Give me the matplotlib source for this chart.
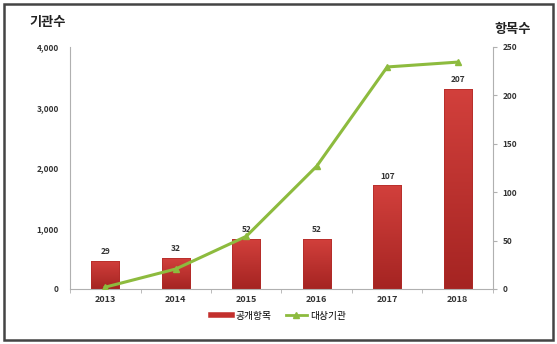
import numpy as np
import matplotlib.pyplot as plt
from matplotlib.patches import Rectangle
from matplotlib.lines import Line2D
from matplotlib.colors import LinearSegmentedColormap

plt.rcParams['font.family'] = ['Noto Sans CJK KR', 'DejaVu Sans']

years = ['2013', '2014', '2015', '2016', '2017', '2018']
items = [29, 32, 52, 52, 107, 207]            # 공개항목 (right axis)
orgs = [30, 330, 870, 2030, 3670, 3750]       # 대상기관 (left axis)

bar_color = '#c3302d'
line_color = '#8dbb3e'
axis_gray = '#b0b0b0'
text_col = '#333333'
grad = LinearSegmentedColormap.from_list('redgrad', ['#a52422', '#d2403c'])

fig = plt.figure(figsize=(5.57, 3.44), dpi=100)
ax = fig.add_axes([0.1257, 0.160, 0.7593, 0.7034])
ax2 = ax.twinx()

x = np.arange(len(years))

# bars on right axis, filled with a vertical gradient
bars = ax2.bar(x, items, width=0.4, color='none', edgecolor='#b02a27', linewidth=0.5, zorder=3)
ramp = np.linspace(0, 1, 100).reshape(-1, 1)
for b in bars:
    x0, y0 = b.get_x(), b.get_y()
    im = ax2.imshow(ramp, cmap=grad, origin='lower', aspect='auto', zorder=2,
                    extent=[x0, x0 + b.get_width(), y0, y0 + b.get_height()])
    im.set_clip_path(b)
for xi, v in zip(x, items):
    ax2.text(xi, v + 5, str(v), ha='center', va='bottom', fontsize=6, fontweight='bold', color=text_col)

# line on left axis, drawn above bars
ax.set_zorder(ax2.get_zorder() + 1)
ax.patch.set_visible(False)
ax.plot(x, orgs, color=line_color, lw=2.2, marker='^', ms=5, zorder=3)

ax.set_xlim(-0.5, 5.5)
ax2.set_xlim(-0.5, 5.5)
ax.set_ylim(0, 4000)
ax2.set_ylim(0, 250)
ax.set_yticks([0, 1000, 2000, 3000, 4000])
ax.set_yticklabels(['0', '1,000', '2,000', '3,000', '4,000'])
ax2.set_yticks([0, 50, 100, 150, 200, 250])
ax.set_xticks(x)
ax.set_xticklabels(years)
ax.set_xticks(np.arange(-0.5, 6, 1), minor=True)

for a in (ax, ax2):
    for s in a.spines.values():
        s.set_visible(False)
ax.spines['left'].set_visible(True)
ax.spines['left'].set_color(axis_gray)
ax.spines['bottom'].set_visible(True)
ax.spines['bottom'].set_color(axis_gray)
ax2.spines['right'].set_visible(True)
ax2.spines['right'].set_color(axis_gray)

ax.tick_params(axis='y', length=0, labelsize=6, colors=text_col, pad=8)
ax.tick_params(axis='x', which='major', length=0, labelsize=6.5, colors=text_col, pad=4)
ax.tick_params(axis='x', which='minor', length=3, color=axis_gray)
ax2.tick_params(axis='y', length=3, color=axis_gray, labelsize=6, labelcolor=text_col, pad=4)
for lbl in ax.get_xticklabels() + ax.get_yticklabels() + ax2.get_yticklabels():
    lbl.set_fontweight('bold')

fig.text(0.052, 0.925, '기관수', fontsize=9.5, fontweight='bold', color='#222222')
fig.text(0.887, 0.905, '항목수', fontsize=9.5, fontweight='bold', color='#222222')

handles = [Line2D([0], [0], color=bar_color, lw=4),
           Line2D([0], [0], color=line_color, lw=2, marker='^', ms=4)]
fig.legend(handles, ['공개항목', '대상기관'], loc='center', bbox_to_anchor=(0.5, 0.082),
           ncol=2, frameon=False, fontsize=7, handlelength=2.2, columnspacing=1.5,
           handletextpad=0.3)

fig.add_artist(Rectangle((0.007, 0.012), 0.986, 0.976, transform=fig.transFigure,
                         fill=False, edgecolor='#444444', lw=1.8))

fig.savefig('out.png', dpi=100)
